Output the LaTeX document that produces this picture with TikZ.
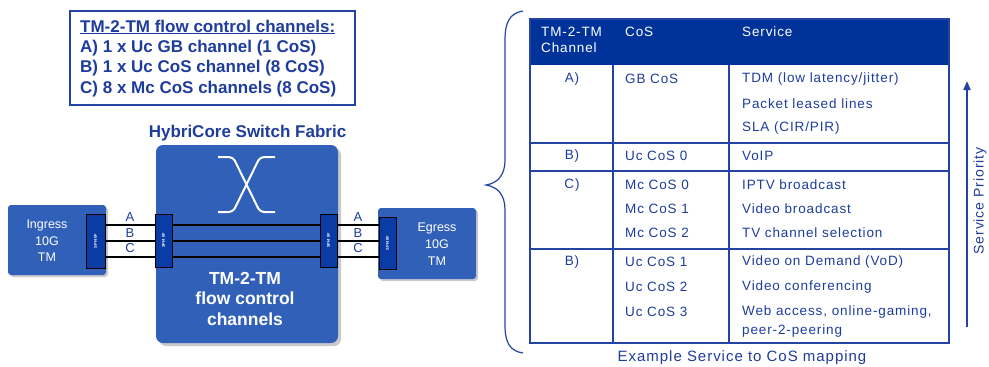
\documentclass[tikz,border=0pt]{standalone}
\usepackage{fontspec}
\setmainfont{Liberation Sans}
\newfontfamily\spaced[LetterSpace=6.5]{Liberation Sans}
\usetikzlibrary{shadows,arrows.meta}
\definecolor{txtblue}{HTML}{1E3C9C}
\definecolor{boxblue}{HTML}{3060B8}
\definecolor{hdrblue}{HTML}{003399}
\definecolor{ifblue}{HTML}{0B3BA5}
\definecolor{lineblue}{HTML}{2444A4}
\begin{document}
\begin{tikzpicture}[x=1pt,y=-1pt,
  tmbox/.style={draw=none,fill=boxblue,rounded corners=3pt,drop shadow={shadow xshift=2pt,shadow yshift=-2pt,fill=black!35,opacity=0.6},inner sep=0pt},
  fabbox/.style={draw=none,fill=boxblue,rounded corners=7pt,drop shadow={shadow xshift=3pt,shadow yshift=-3pt,fill=black!35,opacity=0.6},inner sep=0pt},
  ifbox/.style={draw=black,line width=1pt,fill=ifblue,inner sep=0pt},
  iftxt/.style={text=white,font=\fontsize{4}{4}\selectfont\bfseries,rotate=90},
  chan/.style={draw=black,line width=2.6pt},
  chlab/.style={text=txtblue,font=\fontsize{13}{13}\selectfont,inner sep=0pt},
  whitetxt/.style={text=white,align=center,inner sep=0pt},
  tbltxt/.style={text=txtblue,font=\spaced\fontsize{13.5}{13.5}\selectfont,inner sep=0pt,anchor=west},
  tblc/.style={text=txtblue,font=\spaced\fontsize{13.5}{13.5}\selectfont,inner sep=0pt},
  hdrtxt/.style={text=white,font=\spaced\fontsize{13.5}{16}\selectfont,inner sep=0pt,anchor=north west,align=left},
  tline/.style={draw=lineblue,line width=1.6pt},
  ttl/.style={text=txtblue,font=\fontsize{17}{17}\selectfont\bfseries,inner sep=0pt,anchor=west}
]
\useasboundingbox (0,0) rectangle (989,367);

% ---------- left title box ----------
\node[draw=lineblue,line width=1.5pt,minimum width=285pt,minimum height=94pt,inner sep=0pt] (titlebox) at (212.5,58) {};
\node[ttl] (tl0) at (80,27) {\underline{TM-2-TM flow control channels:}};
\node[ttl] (tl1) at (80,48) {A) 1 x Uc GB channel (1 CoS)};
\node[ttl] (tl2) at (80,68) {B) 1 x Uc CoS channel (8 CoS)};
\node[ttl] (tl3) at (80,89) {C) 8 x Mc CoS channels (8 CoS)};

% ---------- fabric ----------
\node[text=txtblue,font=\fontsize{17}{17}\selectfont\bfseries,inner sep=0pt] (fabttl) at (247.5,133) {HybriCore Switch Fabric};
\node[fabbox,minimum width=182pt,minimum height=198pt] (fab) at (247,244) {};
\draw[white,line width=2pt,rounded corners=4pt] (218,157) -- (233,157) -- (260,212) -- (275,212);
\draw[white,line width=2pt,rounded corners=4pt] (218,212) -- (233,212) -- (260,157) -- (275,157);
\node[whitetxt,font=\fontsize{17.5}{20.5}\selectfont\bfseries] (fabtxt) at (245,298.5) {TM-2-TM\\flow control\\channels};

% ---------- ingress / egress ----------
\node[tmbox,minimum width=98pt,minimum height=70pt] (ing) at (57,240) {};
\node[whitetxt,font=\fontsize{12.5}{16.5}\selectfont] (ingtxt) at (47,241) {Ingress\\10G\\TM};
\node[tmbox,minimum width=98pt,minimum height=71pt] (egr) at (427,243.5) {};
\node[whitetxt,font=\fontsize{12.5}{17}\selectfont] (egrtxt) at (437,244) {Egress\\10G\\TM};

% interface blocks
\node[ifbox,minimum width=19pt,minimum height=54pt] (ingIF) at (95.5,241) {};
\node[iftxt] (ingIFt) at (ingIF) {SPI4 I/F};
\node[ifbox,minimum width=17pt,minimum height=53pt] (fabL) at (163.5,240.5) {};
\node[iftxt] (fabLt) at (fabL) {SPI4 I/F};
\node[ifbox,minimum width=17pt,minimum height=53pt] (fabR) at (328.5,240.5) {};
\node[iftxt] (fabRt) at (fabR) {SPI4 I/F};
\node[ifbox,minimum width=17pt,minimum height=52pt] (egIF) at (387.5,243) {};
\node[iftxt] (egIFt) at (egIF) {SPI4 I/F};

% channel rows
\coordinate (ya) at (0,225);
\coordinate (yb) at (0,241);
\coordinate (yc) at (0,257);
\foreach \r in {ya,yb,yc}{
  \draw[chan] (ingIF.east |- \r) -- (fabL.west |- \r);
  \draw[chan] (fabL.east |- \r) -- (fabR.west |- \r);
  \draw[chan] (fabR.east |- \r) -- (egIF.west |- \r);
}
\node[chlab] (la) at (130,217) {A};
\node[chlab] (lb) at (130,233) {B};
\node[chlab] (lc) at (130,248.5) {C};
\node[chlab] (ra) at (358,217) {A};
\node[chlab] (rb) at (358,233) {B};
\node[chlab] (rc) at (358,248.5) {C};

% ---------- brace ----------
\draw[lineblue,line width=1.2pt] (523,11) .. controls (510,13) and (505,22) .. (505,40)
  -- (505,160) .. controls (505,175) and (498,183) .. (486,185)
  .. controls (498,187) and (505,195) .. (505,210)
  -- (505,325) .. controls (505,343) and (510,351) .. (523,353);

% ---------- table ----------
\fill[hdrblue] (530,19) rectangle (949,65);
\draw[tline] (613,65) -- (613,343);
\draw[tline] (729,65) -- (729,343);
\draw[tline] (530,143) -- (949,143);
\draw[tline] (530,171) -- (949,171);
\draw[tline] (530,249) -- (949,249);
\draw[draw=lineblue,line width=2.6pt] (530,19) rectangle (949,343);

\node[hdrtxt] (h1) at (541,27) {TM-2-TM\\Channel};
\node[hdrtxt] (h2) at (625,27) {CoS};
\node[hdrtxt] (h3) at (742,27) {Service};

\node[tblc] (a0) at (572,79) {A)};
\node[tbltxt] (a1) at (625,79) {GB CoS};
\node[tbltxt] (a2) at (742,79) {TDM (low latency/jitter)};
\node[tbltxt] (a3) at (742,104) {Packet leased lines};
\node[tbltxt] (a4) at (742,128) {SLA (CIR/PIR)};

\node[tblc] (b0) at (572,156) {B)};
\node[tbltxt] (b1) at (625,156) {Uc CoS 0};
\node[tbltxt] (b2) at (742,156) {VoIP};

\node[tblc] (c0) at (572,185) {C)};
\node[tbltxt] (c1) at (625,185) {Mc CoS 0};
\node[tbltxt] (c2) at (625,209) {Mc CoS 1};
\node[tbltxt] (c3) at (625,233) {Mc CoS 2};
\node[tbltxt] (c4) at (742,185) {IPTV broadcast};
\node[tbltxt] (c5) at (742,209) {Video broadcast};
\node[tbltxt] (c6) at (742,233) {TV channel selection};

\node[tblc] (d0) at (572,262) {B)};
\node[tbltxt] (d1) at (625,262) {Uc CoS 1};
\node[tbltxt] (d2) at (625,287) {Uc CoS 2};
\node[tbltxt] (d3) at (625,312) {Uc CoS 3};
\node[tbltxt] (d4) at (742,262) {Video on Demand (VoD)};
\node[tbltxt] (d5) at (742,287) {Video conferencing};
\node[tbltxt,align=left,font=\spaced\fontsize{13.5}{19}\selectfont] (d6) at (742,321.5) {Web access, online-gaming,\\peer-2-peering};

\node[tblc,font=\spaced\fontsize{15}{15}\selectfont] (cap) at (742,358) {Example Service to CoS mapping};

% ---------- service priority ----------
\coordinate (spb) at (967,327);
\coordinate (spt) at (967,81);
\draw[lineblue,line width=2pt,-{Triangle[length=9pt,width=7pt]}] (spb) -- (spt);
\node[tblc,rotate=90,font=\spaced\fontsize{14}{14}\selectfont] (sp) at (980,201) {Service Priority};
\end{tikzpicture}
\end{document}
